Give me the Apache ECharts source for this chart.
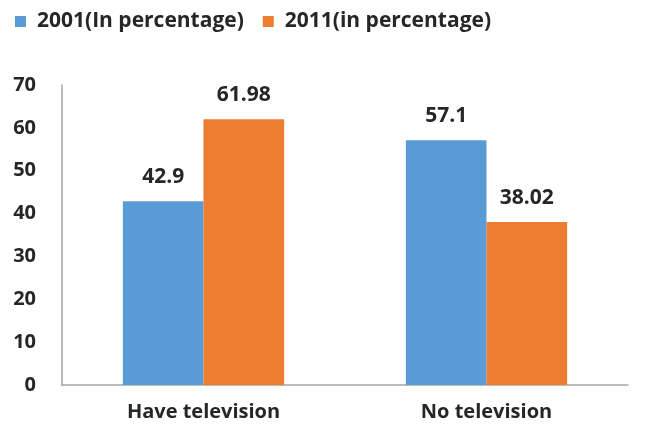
<!DOCTYPE html>
<html>
<head>
<meta charset="utf-8">
<script src="https://cdn.jsdelivr.net/npm/echarts@6/dist/echarts.min.js"></script>
<style>
  html, body { margin: 0; padding: 0; background: #fff; }
  #chart { width: 647px; height: 433px; }
</style>
</head>
<body>
<div id="chart"></div>
<script>
// Household television ownership, share of households
const categories = ['Have television', 'No television'];
const seriesNames = ['2001(In percentage)', '2011(in percentage)'];
const values2001 = [42.9, 57.1];
const values2011 = [61.98, 38.02];
const yTicks = [0, 10, 20, 30, 40, 50, 60, 70];

const baseText = { fontFamily: 'Open Sans', fontWeight: 'bold', color: '#262626' };
const txt = (size, extra) => Object.assign({}, baseText, { fontSize: size }, extra || {});

const chart = echarts.init(document.getElementById('chart'));
chart.setOption({
  animation: false,
  legend: {
    left: 10,
    top: 6,
    itemWidth: 11,
    itemHeight: 11,
    itemGap: 19,
    icon: 'rect',
    textStyle: txt(21, { padding: [0, 0, 0, 6] }),
    data: seriesNames
  },
  grid: { left: 62, right: 19, top: 85, bottom: 48, containLabel: false },
  xAxis: {
    type: 'category',
    data: categories,
    axisLine: { lineStyle: { color: '#a6a6a6', width: 1.5 } },
    axisTick: { show: false },
    axisLabel: txt(20, { margin: 17 })
  },
  yAxis: {
    type: 'value',
    min: yTicks[0],
    max: yTicks[yTicks.length - 1],
    interval: 10,
    splitLine: { show: false },
    axisLine: { show: true, lineStyle: { color: '#a6a6a6', width: 1.5 } },
    axisTick: { show: false },
    axisLabel: txt(20, { margin: 26 })
  },
  series: [
    {
      name: seriesNames[0],
      type: 'bar',
      data: values2001,
      barGap: '0%',
      barCategoryGap: '43%',
      itemStyle: { color: '#5B9BD5' },
      label: txt(21, { show: true, position: 'top', distance: 14 })
    },
    {
      name: seriesNames[1],
      type: 'bar',
      data: values2011,
      itemStyle: { color: '#ED7D31' },
      label: txt(21, { show: true, position: 'top', distance: 14 })
    }
  ]
});
</script>
</body>
</html>
